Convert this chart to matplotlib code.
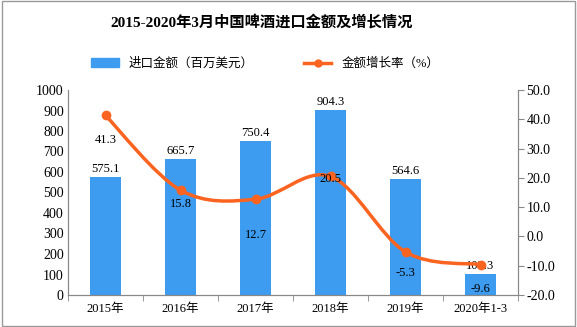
import matplotlib.pyplot as plt
from matplotlib.path import Path
from matplotlib.patches import PathPatch, Rectangle
from matplotlib.lines import Line2D

plt.rcParams['font.family'] = ['Liberation Serif', 'Noto Sans CJK SC', 'DejaVu Sans']

years = ["2015年", "2016年", "2017年", "2018年", "2019年", "2020年1-3"]
amount = [575.1, 665.7, 750.4, 904.3, 564.6, 103.3]
growth = [41.3, 15.8, 12.7, 20.5, -5.3, -9.6]
growth_offsets = [-25, -14, -36, -3, -21, -24]  # label offsets in px

bar_color = "#3d9bf0"
line_color = "#fa6420"

fig = plt.figure(figsize=(5.77, 3.27), dpi=100)
ax = fig.add_axes([68 / 577, 1 - 295 / 327, 450 / 577, 205 / 327])
ax2 = ax.twinx()

x = list(range(len(years)))
ax.bar(x, amount, width=0.41, color=bar_color, zorder=2)
for xi, v in zip(x, amount):
    ax.annotate(f"{v:.1f}", (xi, v), xytext=(0, 2), textcoords="offset pixels",
                ha="center", va="bottom", fontsize=9, zorder=5)

ax.set_xlim(-0.5, len(years) - 0.5)
ax.set_ylim(0, 1000)
ax.set_yticks(range(0, 1001, 100))
ax.set_xticks(x)
ax.set_xticklabels(years, fontsize=9)
ax.set_xticks([i + 0.5 for i in range(-1, len(years))], minor=True)
ax.tick_params(axis="x", which="major", length=0, pad=6)
ax.tick_params(axis="x", which="minor", length=4, color="#888888")
ax.tick_params(axis="y", labelsize=10, length=0, pad=3)

ax2.set_ylim(-20, 50)
ax2.set_yticks(range(-20, 51, 10))
ax2.set_yticklabels([f"{t:.1f}" for t in range(-20, 51, 10)])
ax2.tick_params(axis="y", labelsize=10, length=4, color="#888888", pad=2)

for a in (ax, ax2):
    a.spines["top"].set_visible(False)
    for s in ("left", "right", "bottom"):
        a.spines[s].set_color("#888888")

# smooth line (Catmull-Rom as cubic Bezier)
verts = [(x[0], growth[0])]
codes = [Path.MOVETO]
n = len(x)
for i in range(n - 1):
    p0 = (x[max(i - 1, 0)], growth[max(i - 1, 0)])
    p1 = (x[i], growth[i])
    p2 = (x[i + 1], growth[i + 1])
    p3 = (x[min(i + 2, n - 1)], growth[min(i + 2, n - 1)])
    c1 = (p1[0] + (p2[0] - p0[0]) / 6, p1[1] + (p2[1] - p0[1]) / 6)
    c2 = (p2[0] - (p3[0] - p1[0]) / 6, p2[1] - (p3[1] - p1[1]) / 6)
    verts += [c1, c2, p2]
    codes += [Path.CURVE4] * 3
ax2.add_patch(PathPatch(Path(verts, codes), fill=False, edgecolor=line_color,
                        lw=2.5, zorder=3))
ax2.plot(x, growth, "o", color=line_color, ms=6, zorder=4)
for xi, v, off in zip(x, growth, growth_offsets):
    ax2.annotate(f"{v:.1f}", (xi, v), xytext=(0, off), textcoords="offset pixels",
                 ha="center", va="center", fontsize=9, zorder=5)

fig.text(0.453, 0.932, "2015-2020年3月中国啤酒进口金额及增长情况",
         ha="center", va="center", fontsize=11, fontweight="bold")

handles = [Rectangle((0, 0), 1, 1, color=bar_color),
           Line2D([], [], color=line_color, lw=2.5, marker="o", ms=5)]
fig.legend(handles, ["进口金额（百万美元）", "金额增长率（%）"], ncol=2,
           loc="center", bbox_to_anchor=(0.46, 0.805), frameon=False,
           fontsize=9, handlelength=2.2, columnspacing=4)

fig.add_artist(Rectangle((0.003, 0.004), 0.994, 0.992, transform=fig.transFigure,
                         fill=False, edgecolor="#999999", lw=1))

fig.savefig("out.png", dpi=100)
